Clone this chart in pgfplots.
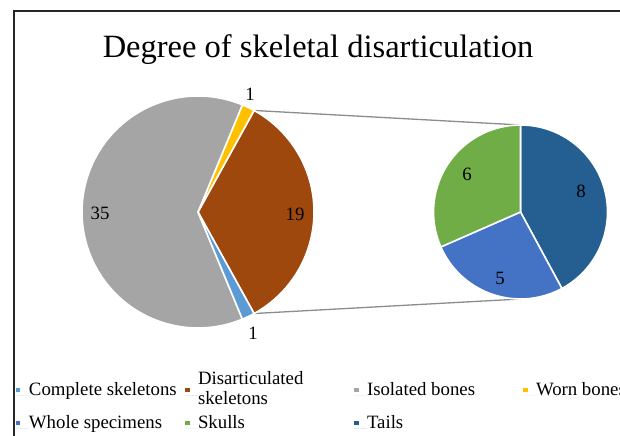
\documentclass[border=0pt]{standalone}
\usepackage{fontspec}
\setmainfont{Liberation Serif}
\usepackage{pgfplots}
\usepackage{pgfplotstable}
\pgfplotsset{compat=1.18}
\definecolor{cComp}{HTML}{5B9BD5}
\definecolor{cDis}{HTML}{9E480E}
\definecolor{cIso}{HTML}{A5A5A5}
\definecolor{cWorn}{HTML}{FFC000}
\definecolor{cWhole}{HTML}{4472C4}
\definecolor{cSkull}{HTML}{70AD47}
\definecolor{cTail}{HTML}{255E91}
\newcommand\lbl{\fontsize{18.8bp}{20bp}\selectfont}
\newcommand\ttl{\fontsize{32.5bp}{38bp}\selectfont}

% main pie, drawn counter-clockwise from the split slice
\pgfplotstableread{
name value color lx ly
Disarticulated 19 cDis 295 222
Worn 1 cWorn 250 342
Isolated 35 cIso 100 223
Complete 1 cComp 253 103
}\maindata
% secondary pie, drawn clockwise from the top
\pgfplotstableread{
name value color lx ly
Tails 8 cTail 581 245
Whole 5 cWhole 500 158
Skulls 6 cSkull 467 262
}\subdata

\newcommand\drawpie[6]{%
  \pgfplotstablegetrowsof{#1}%
  \pgfmathtruncatemacro\lastrow{\pgfplotsretval-1}%
  \def\tot{0}%
  \pgfplotsforeachungrouped \i in {0,...,\lastrow}{%
    \pgfplotstablegetelem{\i}{value}\of#1%
    \pgfmathsetmacro\tot{\tot+\pgfplotsretval}}%
  \pgfplotstablegetelem{0}{value}\of#1%
  \pgfmathsetmacro\acur{#5}%
  \pgfplotsforeachungrouped \i in {0,...,\lastrow}{%
    \pgfplotstablegetelem{\i}{value}\of#1\let\pv\pgfplotsretval
    \pgfplotstablegetelem{\i}{color}\of#1\let\pc\pgfplotsretval
    \pgfplotstablegetelem{\i}{lx}\of#1\let\plx\pgfplotsretval
    \pgfplotstablegetelem{\i}{ly}\of#1\let\ply\pgfplotsretval
    \pgfmathsetmacro\anext{\acur+(#6)*\pv/\tot*360}%
    \edef\tmp{\noexpand\fill[fill=\pc,draw=white,line width=1.6bp] (axis cs:#2,#3) -- ++(\acur:#4bp) arc[start angle=\acur,end angle=\anext,radius=#4bp] -- cycle;}%
    \tmp
    \edef\tmp{\noexpand\node[font=\noexpand\lbl,inner sep=0pt] at (axis cs:\plx,\ply) {\pv};}%
    \tmp
    \global\let\acur\anext}}

\begin{document}
\begin{tikzpicture}
\begin{axis}[x=1bp,y=1bp,xmin=0,xmax=620,ymin=0,ymax=436,hide axis,clip=true,
  legend columns=4,
  legend image code/.code={\fill[#1] (0bp,3.5bp) rectangle (4.5bp,8bp); \path (0bp,0bp) -- (13bp,0bp);},
  legend style={at={(0.0258,0.1486)},anchor=north west,draw=none,fill=none,
    inner sep=0pt,outer sep=0pt,row sep=11.2bp,column sep=0pt,font=\lbl,
    cells={anchor=base west},
    nodes={inner sep=0pt,outer sep=0pt,text depth=,text height=}},
]
\addlegendimage{fill=cComp,draw=none}
\addlegendentry{\makebox[156bp][l]{Complete skeletons}}
\addlegendimage{fill=cDis,draw=none}
\addlegendentry{\raisebox{11.7bp}{\parbox[t]{156bp}{Disarticulated\\skeletons}}}
\addlegendimage{fill=cIso,draw=none}
\addlegendentry{\makebox[156bp][l]{Isolated bones}}
\addlegendimage{fill=cWorn,draw=none}
\addlegendentry{\makebox[156bp][l]{Worn bones}}
\addlegendimage{fill=cWhole,draw=none}
\addlegendentry{\makebox[156bp][l]{Whole specimens}}
\addlegendimage{fill=cSkull,draw=none}
\addlegendentry{\makebox[156bp][l]{Skulls}}
\addlegendimage{fill=cTail,draw=none}
\addlegendentry{\makebox[156bp][l]{Tails}}

\draw[line width=2bp,color=black!85] (axis cs:13.5,-10) -- (axis cs:13.5,425) -- (axis cs:640,425);
\draw[color=cIso!85!black,line width=1.3bp] (axis cs:198,224) ++(61.07:116bp) -- (axis cs:520.5,311);
\draw[color=cIso!85!black,line width=1.3bp] (axis cs:198,224) ++(-61.07:116bp) -- (axis cs:520.5,137);
\drawpie{\maindata}{198}{224}{116}{-\pgfplotsretval/\tot*180}{1}
\drawpie{\subdata}{520.5}{224}{87}{90}{-1}
\node[anchor=base,font=\ttl,inner sep=0pt] at (axis cs:318,378) {Degree of skeletal disarticulation};
\end{axis}
\pgfresetboundingbox
\path[use as bounding box] (current axis.south west) rectangle (current axis.north east);
\end{tikzpicture}
\end{document}
